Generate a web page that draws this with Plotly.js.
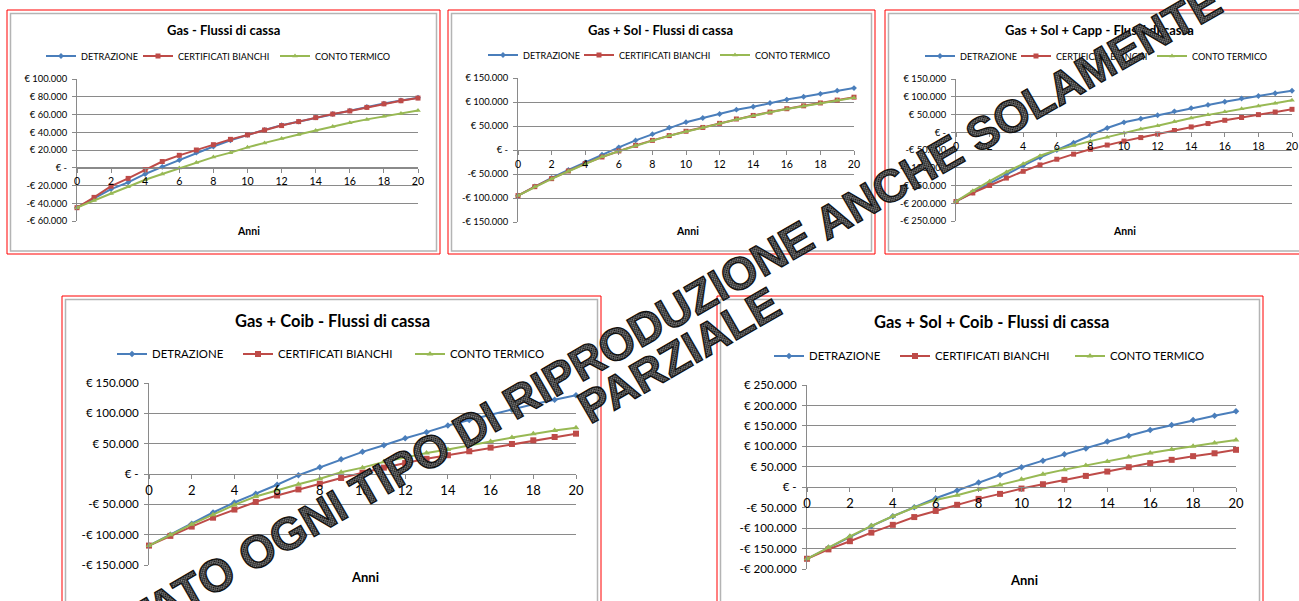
<!DOCTYPE html>
<html><head><meta charset="utf-8">
<script src="https://cdn.plot.ly/plotly-3.0.1.min.js"></script>
<style>html,body{margin:0;padding:0;background:#fff}#chart{width:1299px;height:601px}</style>
</head><body><div id="chart"></div>
<script>
// ---------------- DATA ----------------
const years = [0,1,2,3,4,5,6,7,8,9,10,11,12,13,14,15,16,17,18,19,20];
const seriesNames = ['DETRAZIONE','CERTIFICATI BIANCHI','CONTO TERMICO'];
const panelTitles = ['Gas - Flussi di cassa','Gas + Sol - Flussi di cassa','Gas + Sol + Capp - Flussi di cassa','Gas + Coib - Flussi di cassa','Gas + Sol + Coib - Flussi di cassa'];
const xAxisTitle = 'Anni';
const xTickVals = [0,2,4,6,8,10,12,14,16,18,20];

// Gas
const gasDetrazione = [-45000,-34500,-24000,-16500,-7000,1000,8600,17000,24000,31000,37000,42700,48000,52000,56700,60600,64300,68400,72300,75800,79000];
const gasCertificati = [-45000,-33400,-20700,-12000,-2300,7000,14000,20000,26000,32000,37000,42500,47500,52000,56500,60500,64000,68000,72000,75500,78500];
const gasConto = [-45000,-36800,-29000,-21400,-13500,-7000,-400,6000,12000,17000,23000,28000,33000,37500,42000,46500,50700,54500,58000,61000,64600];
const gasTicks = [-60000,-40000,-20000,0,20000,40000,60000,80000,100000];

// Gas + Sol
const solDetrazione = [-95000,-75700,-58000,-41700,-25700,-9700,5600,20000,33000,46500,58000,66700,75000,84000,90000,98000,105000,111000,117000,123600,129000];
const solCertificati = [-95000,-76400,-59700,-43700,-28500,-14600,-2000,9700,20000,30000,39000,47000,55500,64600,72000,79000,86000,92000,98000,104000,110000];
const solConto = [-95000,-76800,-60200,-44200,-29000,-14200,-2500,9200,19500,29500,38500,47000,55000,63500,71500,78500,85500,91500,97500,103500,109000];
const solTicks = [-150000,-100000,-50000,0,50000,100000,150000];

// Gas + Sol + Capp
const cappDetrazione = [-195000,-170000,-144000,-118000,-94000,-71000,-50000,-29600,-8600,12000,28000,38000,48000,59000,68000,77000,86000,95000,102000,110000,117000];
const cappCertificati = [-195000,-171000,-150000,-129000,-110000,-92000,-76000,-61700,-48000,-36000,-25000,-15000,-5000,5000,15000,24500,33700,41500,49700,57000,64600];
const cappConto = [-195000,-165000,-138000,-112000,-89000,-66000,-50000,-37000,-25000,-13800,-2000,9000,18500,30000,40000,49000,58000,66000,74000,82000,90000];
const cappTicks = [-250000,-200000,-150000,-100000,-50000,0,50000,100000,150000];

// Gas + Coib
const coibDetrazione = [-118000,-100000,-82000,-63500,-47000,-32600,-17700,-2000,11000,24300,36500,47500,59000,69000,80000,89000,98000,106000,115000,122500,130000];
const coibCertificati = [-118000,-102000,-86700,-72000,-58600,-46000,-35400,-25400,-16000,-6600,2200,10500,18000,25000,31000,37500,43500,49500,55500,61000,66500];
const coibConto = [-118000,-100000,-83000,-67000,-51000,-37000,-26500,-17000,-7700,2800,10500,20000,27000,34800,40400,47500,53700,60000,66400,71800,76400];
const coibTicks = [-150000,-100000,-50000,0,50000,100000,150000];

// Gas + Sol + Coib
const solCoibDetrazione = [-175000,-148000,-122000,-95000,-71000,-49000,-27000,-8000,11400,30000,49000,65000,80700,95000,112000,126000,140000,152000,164500,175000,185500];
const solCoibCertificati = [-175000,-152000,-132000,-111000,-92000,-73000,-58000,-43000,-28500,-16300,-3300,7300,18000,27700,38300,49000,59000,67000,76000,83000,91500];
const solCoibConto = [-175000,-147000,-120000,-94500,-71000,-49700,-31000,-19600,-5700,5700,19600,31800,43000,53000,63000,74000,83500,92000,100500,108000,115500];
const solCoibTicks = [-200000,-150000,-100000,-50000,0,50000,100000,150000,200000,250000];

const watermarkLine1 = 'VIETATO OGNI TIPO DI RIPRODUZIONE ANCHE SOLAMENTE';
const watermarkLine2 = 'PARZIALE';

// ---------------- LAYOUT ----------------
const W = 1299, H = 601;
const px = v => v / W;
const py = v => 1 - v / H;
const colors = ['#4A7EBB', '#BE4B48', '#98B954'];
const symbols = ['diamond', 'square', 'triangle-up'];
const gridCol = '#8a8a8a';
const FONT = 'Lato, "Open Sans", sans-serif';

function euro(v) {
  if (v === 0) return '€ -';
  const s = String(Math.abs(v)).replace(/\B(?=(\d{3})+(?!\d))/g, '.');
  return (v < 0 ? '-€ ' : '€ ') + s;
}

const panels = [
  {series:[gasDetrazione,gasCertificati,gasConto], ticks:gasTicks, plot:[77,79,418,221], box:[7,10,440,254], title:[223,30], legend:[41,56], lw:[52,92,80], anni:[248,231], big:false},
  {series:[solDetrazione,solCertificati,solConto], ticks:solTicks, plot:[518,78,854,222], box:[448,10,875,254], title:[660,30], legend:[483,55], lw:[51,91,80], anni:[687,231], big:false},
  {series:[cappDetrazione,cappCertificati,cappConto], ticks:cappTicks, plot:[956,79,1292,221], box:[885,10,1320,254], title:[1099,30], legend:[920,56], lw:[51,91,80], anni:[1124,231], big:false},
  {series:[coibDetrazione,coibCertificati,coibConto], ticks:coibTicks, plot:[149,383,576,565], box:[62,296,601,620], title:[332,321], legend:[112,354], lw:[81,127,100], anni:[365,577], big:true},
  {series:[solCoibDetrazione,solCoibCertificati,solCoibConto], ticks:solCoibTicks, plot:[807,385,1236,569], box:[717,296,1263,620], title:[991,322], legend:[769,356], lw:[81,130,100], anni:[1024,580], big:true}
];

const traces = [];
const layout = {
  width: W, height: H,
  margin: {l:0, r:0, t:0, b:0},
  paper_bgcolor: '#fff', plot_bgcolor: '#fff',
  showlegend: true,
  annotations: [], shapes: []
};

panels.forEach((p, i) => {
  const n = i + 1;
  const sfx = n === 1 ? '' : String(n);
  const xa = 'x' + sfx, ya = 'y' + sfx;
  const lg = 'legend' + sfx;
  const ymin = p.ticks[0], ymax = p.ticks[p.ticks.length - 1];
  const yDom = [py(p.plot[3]), py(p.plot[1])];
  const zeroPos = yDom[0] + (0 - ymin) / (ymax - ymin) * (yDom[1] - yDom[0]);
  const yTickSize = p.big ? 11.6 : 9.4;
  const xTickSize = p.big ? 13 : 10.6;
  const legSize = p.big ? 11.4 : 9.1;

  layout['xaxis' + sfx] = {
    domain: [px(p.plot[0]), px(p.plot[2])], range: [0, 20],
    anchor: 'free', position: zeroPos,
    showline: true, linecolor: gridCol, linewidth: 1,
    ticks: 'outside', ticklen: 4, tickcolor: gridCol, tickwidth: 1,
    tickvals: xTickVals, showgrid: false, zeroline: false,
    tickfont: {family: FONT, size: xTickSize, color: '#000'}, fixedrange: true
  };
  layout['yaxis' + sfx] = {
    domain: yDom, range: [ymin, ymax], anchor: xa,
    showline: true, linecolor: gridCol, linewidth: 1,
    ticks: 'outside', ticklen: 4, tickcolor: gridCol, tickwidth: 1,
    tickvals: p.ticks, ticktext: p.ticks.map(euro),
    showgrid: true, gridcolor: gridCol, gridwidth: 1, zeroline: false,
    ticklabelstandoff: 3,
    tickfont: {family: FONT, size: yTickSize, color: '#000'}, fixedrange: true
  };
  layout[lg] = {
    orientation: 'h', x: px(p.legend[0]), xanchor: 'left',
    y: py(p.legend[1]), yanchor: 'middle',
    font: {family: FONT, size: legSize, color: '#000'},
    bgcolor: 'rgba(0,0,0,0)', itemwidth: 30, traceorder: 'normal'
  };

  p.series.forEach((vals, k) => {
    traces.push({
      type: 'scatter', mode: 'lines+markers',
      x: years, y: vals, name: seriesNames[k],
      xaxis: xa, yaxis: ya, legend: lg, legendwidth: p.lw[k],
      line: {color: colors[k], width: 2},
      marker: {symbol: symbols[k], size: k === 0 ? (p.big ? 5 : 4.5) : (p.big ? 6 : 5), color: colors[k]},
      cliponaxis: false, hoverinfo: 'skip'
    });
  });

  // chart area borders
  layout.shapes.push({type:'rect', xref:'paper', yref:'paper',
    x0: px(p.box[0]), x1: px(p.box[2]), y0: py(p.box[3]), y1: py(p.box[1]),
    line: {color: '#ff0000', width: 1}, fillcolor: 'rgba(0,0,0,0)'});
  layout.shapes.push({type:'rect', xref:'paper', yref:'paper',
    x0: px(p.box[0] + 3.5), x1: px(p.box[2] - 3.5), y0: py(p.box[3] - 3), y1: py(p.box[1] + 3.5),
    line: {color: '#b4b4b4', width: 1.5}, fillcolor: 'rgba(0,0,0,0)'});

  layout.annotations.push({xref:'paper', yref:'paper', x: px(p.title[0]), y: py(p.title[1]),
    xanchor:'center', yanchor:'middle', showarrow:false, text: panelTitles[i],
    font: {family: FONT, size: p.big ? 16.5 : 13, color: '#000', weight: 700}});
  layout.annotations.push({xref:'paper', yref:'paper', x: px(p.anni[0]), y: py(p.anni[1]),
    xanchor:'center', yanchor:'middle', showarrow:false, text: xAxisTitle,
    font: {family: FONT, size: p.big ? 13 : 10.5, color: '#000', weight: 700}});
});

// watermark
const wmFont = {family: '"Liberation Sans", Arial, sans-serif', size: 45.5, color: '#3a3a3a', weight: 700};
const wmStart = layout.annotations.length;
layout.annotations.push({xref:'paper', yref:'paper', x: px(642), y: py(329), xanchor:'center', yanchor:'middle',
  showarrow:false, textangle: -30, text: watermarkLine1, font: wmFont});
layout.annotations.push({xref:'paper', yref:'paper', x: px(679), y: py(355), xanchor:'center', yanchor:'middle',
  showarrow:false, textangle: -30, text: watermarkLine2, font: wmFont});

Plotly.newPlot('chart', traces, layout, {staticPlot: true, displayModeBar: false}).then(gd => {
  // halftone-like fill for the watermark letters
  const NS = 'http://www.w3.org/2000/svg';
  const svgs = gd.querySelectorAll('svg.main-svg');
  const host = svgs[svgs.length - 1];
  let defs = host.querySelector('defs');
  if (!defs) { defs = document.createElementNS(NS, 'defs'); host.insertBefore(defs, host.firstChild); }
  const pat = document.createElementNS(NS, 'pattern');
  pat.setAttribute('id', 'wmdots'); pat.setAttribute('patternUnits', 'userSpaceOnUse');
  pat.setAttribute('width', '3'); pat.setAttribute('height', '3');
  const bg = document.createElementNS(NS, 'rect');
  bg.setAttribute('width', '3'); bg.setAttribute('height', '3'); bg.setAttribute('fill', '#8a8a8a');
  pat.appendChild(bg);
  [[0,0],[1.5,1.5]].forEach(([a,b]) => {
    const r = document.createElementNS(NS, 'rect');
    r.setAttribute('x', a); r.setAttribute('y', b); r.setAttribute('width', '1.5'); r.setAttribute('height', '1.5');
    r.setAttribute('fill', '#111');
    pat.appendChild(r);
  });
  defs.appendChild(pat);
  [wmStart, wmStart + 1].forEach(idx => {
    const t = gd.querySelector('.annotation[data-index="' + idx + '"] .annotation-text');
    if (t) {
      t.style.fill = 'url(#wmdots)';
      t.style.stroke = '#111';
      t.style.strokeWidth = '1.3px';
      t.style.paintOrder = 'fill';
    }
  });
});
</script>
</body></html>
